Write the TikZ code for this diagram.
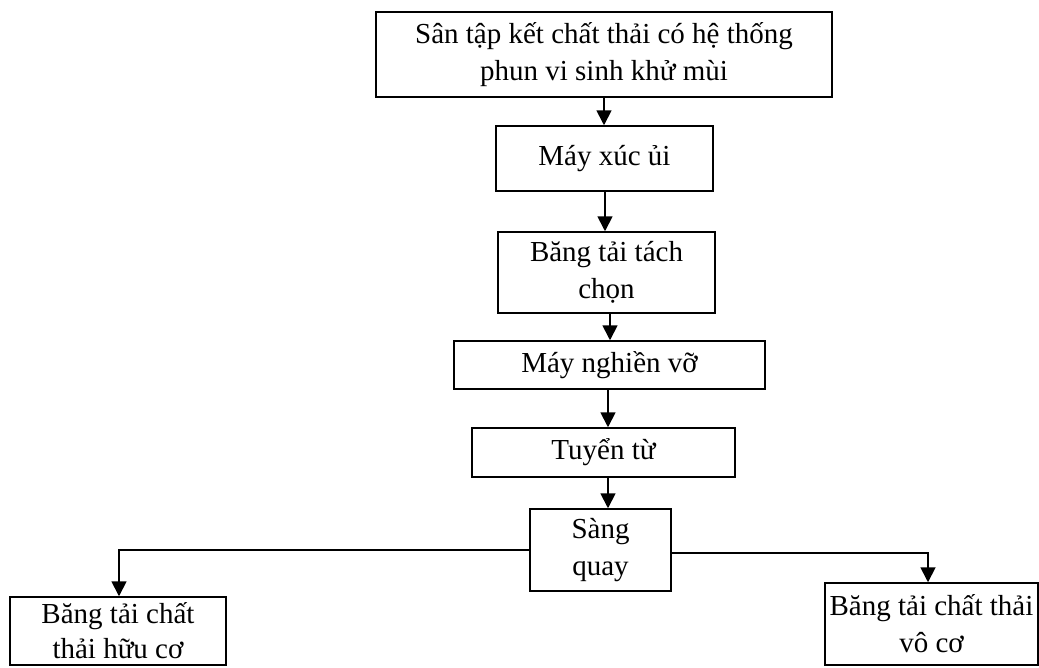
\documentclass[tikz,border=0pt]{standalone}
\usepackage{fontspec}
\setmainfont{Liberation Serif}
\usetikzlibrary{arrows.meta,calc}
\tikzset{
  box/.style={draw, line width=1.5pt, align=center, inner sep=0pt, font=\fontsize{29}{37}\selectfont},
  arr/.style={line width=1.8pt, -{Triangle[length=15pt,width=15pt]}},
  ln/.style={line width=1.8pt}
}
\begin{document}
\begin{tikzpicture}[x=1pt,y=-1pt]
\useasboundingbox (0,0) rectangle (1039,667);
\clip (0,0) rectangle (1039,667);
\fill[white] (0,0) rectangle (1039,667);
\node[box, minimum width=456pt, minimum height=85pt] (b1) at (604,54.5) {Sân tập kết chất thải có hệ thống\\phun vi sinh khử mùi};
\node[box, minimum width=217pt, minimum height=65pt] (b2) at (604.5,158.5) {Máy xúc ủi};
\node[box, minimum width=217pt, minimum height=81pt] (b3) at (606.5,272.5) {Băng tải tách\\chọn};
\node[box, minimum width=311pt, minimum height=48pt] (b4) at (609.5,365) {Máy nghiền vỡ};
\node[box, minimum width=263pt, minimum height=49pt] (b5) at (603.5,452.5) {Tuyển từ};
\node[box, minimum width=141pt, minimum height=82pt] (b6) at (600.5,550) {Sàng\\quay};
\node[box, minimum width=216pt, minimum height=68pt, font=\fontsize{29}{35}\selectfont] (b7) at (118,631) {Băng tải chất\\thải hữu cơ};
\node[box, minimum width=213pt, minimum height=82pt] (b8) at (931.5,624) {Băng tải chất thải\\vô cơ};
\draw[arr] (604,0 |- b1.south) -- (604,0 |- b2.north);
\draw[arr] (605,0 |- b2.south) -- (605,0 |- b3.north);
\draw[arr] (610,0 |- b3.south) -- (610,0 |- b4.north);
\draw[arr] (608,0 |- b4.south) -- (608,0 |- b5.north);
\draw[arr] (608,0 |- b5.south) -- (608,0 |- b6.north);
\draw[arr] (b6.west) -| (119,0 |- b7.north);
\draw[arr] (b6.east |- 0,553) -| (928,0 |- b8.north);
\end{tikzpicture}
\end{document}
